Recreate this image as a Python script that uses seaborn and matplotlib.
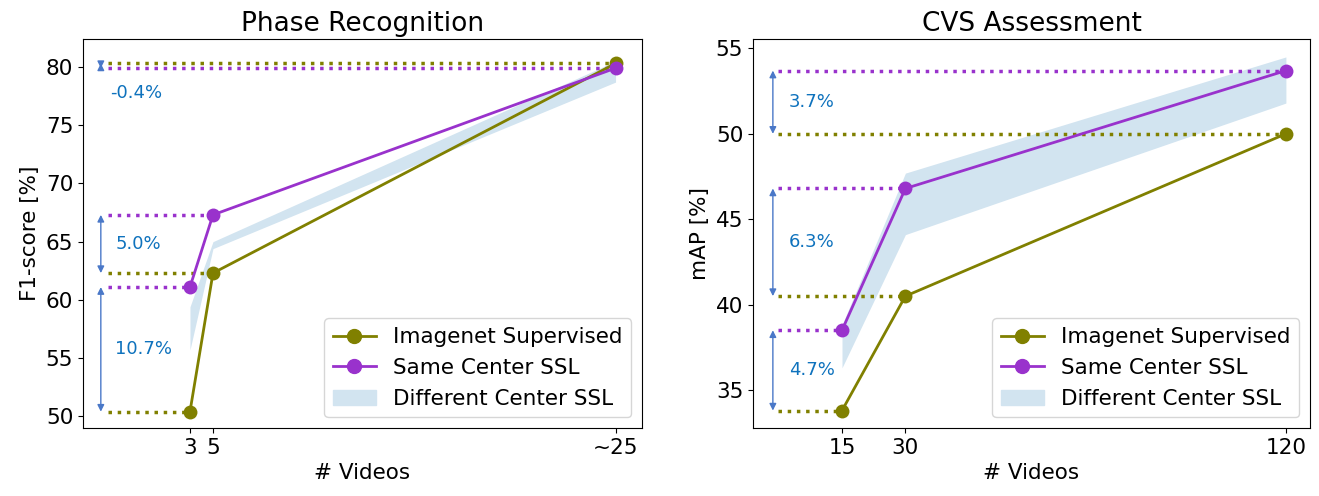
import numpy as np
import pandas as pd
import matplotlib
matplotlib.use("Agg")
import matplotlib.pyplot as plt
import seaborn as sns
from matplotlib.patches import Patch
from matplotlib.lines import Line2D

# Phase recognition (left)
phase_x = [3, 5, 40]
phase_xlabels = ["3", "5", "~25"]
phase_imagenet = [50.4, 62.3, 80.3]
phase_same = [61.1, 67.3, 79.9]
phase_diff_lo = [55.7, 64.4, 78.7]
phase_diff_hi = [59.4, 65.0, 80.5]

# CVS assessment (right)
cvs_x = [15, 30, 120]
cvs_xlabels = ["15", "30", "120"]
cvs_imagenet = [33.8, 40.5, 50.0]
cvs_same = [38.5, 46.8, 53.7]
cvs_diff_lo = [36.3, 44.1, 51.8]
cvs_diff_hi = [38.8, 47.7, 54.5]

OLIVE = "olive"
PURPLE = "darkorchid"
BAND = "#d2e4f0"
ARROW = "#4a78c8"
TXT = "#0e72bd"
FS = 15.5


def panel(ax, x, xlabels, imnet, same, lo, hi, title, ylabel, xlim, ylim, yticks,
          arrow_x, dot_x, text_x, text_pos=None):
    ax.fill_between(x, lo, hi, color=BAND, lw=0, zorder=1)
    df = pd.DataFrame({"x": x * 2, "y": imnet + same,
                       "model": ["Imagenet Supervised"] * len(x) + ["Same Center SSL"] * len(x)})
    sns.lineplot(data=df, x="x", y="y", hue="model", palette=[OLIVE, PURPLE],
                 marker="o", markersize=10, markeredgewidth=0, lw=2, ax=ax,
                 legend=False, zorder=3)
    for i in range(len(x)):
        ax.plot([dot_x, x[i]], [imnet[i], imnet[i]], ls=":", lw=2.5, color=OLIVE, zorder=2)
        ax.plot([dot_x, x[i]], [same[i], same[i]], ls=":", lw=2.5, color=PURPLE, zorder=2)
        ax.annotate("", xy=(arrow_x, same[i]), xytext=(arrow_x, imnet[i]),
                    arrowprops=dict(arrowstyle="<|-|>", color=ARROW, lw=1,
                                    mutation_scale=10, shrinkA=0, shrinkB=0))
        diff = same[i] - imnet[i]
        ty = (same[i] + imnet[i]) / 2
        tx = text_x
        if text_pos and i in text_pos:
            tx, ty = text_pos[i]
        ax.text(tx, ty, f"{diff:.1f}%", color=TXT, fontsize=13, ha="left", va="center")
    ax.set_xlim(*xlim)
    ax.set_ylim(*ylim)
    ax.set_xticks(x)
    ax.set_xticklabels(xlabels)
    ax.set_yticks(yticks)
    ax.set_title(title, fontsize=19)
    ax.set_xlabel("# Videos", fontsize=FS)
    ax.set_ylabel(ylabel, fontsize=FS)
    ax.tick_params(labelsize=FS)
    handles = [
        Line2D([], [], color=OLIVE, marker="o", markersize=10, lw=2),
        Line2D([], [], color=PURPLE, marker="o", markersize=10, lw=2),
        Patch(color=BAND),
    ]
    ax.legend(handles, ["Imagenet Supervised", "Same Center SSL", "Different Center SSL"],
              loc="lower right", fontsize=FS)


W, H = 1319, 496
fig = plt.figure(figsize=(W / 100, H / 100), dpi=100)
ax1 = fig.add_axes([83 / W, 1 - 428 / H, (642 - 83) / W, (428 - 39) / H])
ax2 = fig.add_axes([753 / W, 1 - 428 / H, (1310 - 753) / W, (428 - 39) / H])

panel(ax1, phase_x, phase_xlabels, phase_imagenet, phase_same, phase_diff_lo,
      phase_diff_hi, "Phase Recognition", "F1-score [%]", (-6.3, 42.3), (49.0, 82.4),
      [50, 55, 60, 65, 70, 75, 80], arrow_x=-4.75, dot_x=-4.1, text_x=-3.5,
      text_pos={2: (-3.9, 77.8)})
panel(ax2, cvs_x, cvs_xlabels, cvs_imagenet, cvs_same, cvs_diff_lo,
      cvs_diff_hi, "CVS Assessment", "mAP [%]", (-6.05, 125.7), (32.78, 55.55),
      [35, 40, 45, 50, 55], arrow_x=-1.35, dot_x=-0.2, text_x=2.4)

fig.savefig("out.png", dpi=100)
